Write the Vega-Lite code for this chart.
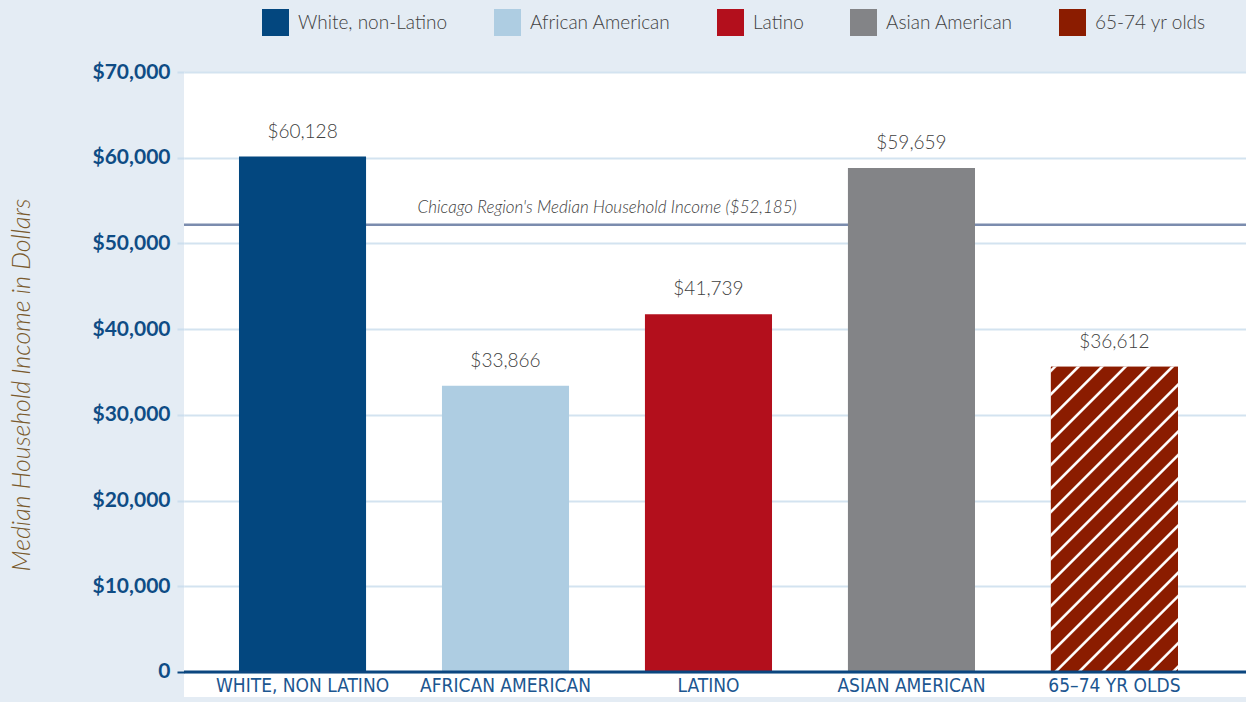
{
  "$schema": "https://vega.github.io/schema/vega-lite/v6.json",
  "width": 1062,
  "height": 625,
  "autosize": {"type": "none"},
  "padding": {"left": 184, "top": 72, "right": 0, "bottom": 5},
  "background": "#e4ecf4",
  "config": {"view": {"fill": "white", "stroke": null}, "font": "Lato"},
  "datasets": {
    "groups": [
      {"category": "WHITE, NON LATINO", "group": "White, non-Latino", "income": 60128, "label": "$60,128"},
      {"category": "AFRICAN AMERICAN", "group": "African American", "income": 33400, "label": "$33,866"},
      {"category": "LATINO", "group": "Latino", "income": 41739, "label": "$41,739"},
      {"category": "ASIAN AMERICAN", "group": "Asian American", "income": 58800, "label": "$59,659"},
      {"category": "65–74 YR OLDS", "group": "65-74 yr olds", "income": 35600, "label": "$36,612"}
    ],
    "region": [
      {"label": "Chicago Region's Median Household Income ($52,185)", "income": 52185}
    ]
  },
  "layer": [
    {
      "data": {"name": "region"},
      "mark": {"type": "rule", "color": "#7b8cae", "strokeWidth": 2.5},
      "encoding": {
        "y": {"field": "income", "type": "quantitative"}
      }
    },
    {
      "data": {"name": "groups"},
      "mark": {"type": "bar"},
      "encoding": {
        "x": {
          "field": "category", "type": "nominal", "sort": null,
          "scale": {"paddingInner": 0.374, "paddingOuter": 0.303, "align": 0.447},
          "axis": {
            "title": null, "labelAngle": 0, "domain": false, "ticks": false, "tickSize": 0,
            "labelPadding": -21, "labelFont": "'DejaVu Sans Condensed', 'DejaVu Sans', sans-serif", "labelFontSize": 19,
            "labelColor": "#1c5690", "labelLimit": 400, "grid": false
          }
        },
        "y": {
          "field": "income", "type": "quantitative",
          "scale": {"domain": [-2917, 70000], "nice": false, "zero": false},
          "axis": {
            "values": [0, 10000, 20000, 30000, 40000, 50000, 60000, 70000],
            "labelExpr": "datum.value === 0 ? '0' : format(datum.value, '$,')",
            "labelFont": "Lato", "labelFontSize": 21, "labelFontWeight": "bold",
            "labelColor": "#0f4c85", "labelPadding": 7,
            "tickSize": 7, "tickWidth": 2,
            "tickColor": {"condition": {"test": "datum.value === 0", "value": "#0b467f"}, "value": "#cddfee"},
            "domain": false, "grid": true, "gridColor": "#d3e3f0", "gridWidth": 2,
            "title": "Median Household Income in Dollars",
            "titleFont": "Lato", "titleFontWeight": 300, "titleFontStyle": "italic",
            "titleFontSize": 25, "titleColor": "#7a5a2c", "titlePadding": 58
          }
        },
        "y2": {"datum": 0},
        "color": {
          "field": "group", "type": "nominal", "sort": null,
          "scale": {
            "domain": ["White, non-Latino", "African American", "Latino", "Asian American", "65-74 yr olds"],
            "range": ["#03477f", "#aecde2", "#b30f1c", "#838487", "#8b1c00"]
          },
          "legend": {
            "orient": "none", "legendX": 78, "legendY": -63, "direction": "horizontal",
            "title": null, "symbolType": "square", "symbolSize": 729, "symbolStrokeWidth": 0,
            "symbolOpacity": 1,
            "labelFont": "Lato", "labelFontSize": 19, "labelFontWeight": 300, "labelColor": "#404040",
            "labelOffset": 9, "columnPadding": 46, "padding": 0, "labelLimit": 300,
            "encode": {
              "symbols": {
                "update": {
                  "fill": {
                    "signal": "scale('color', datum.value)"
                  }
                },
                "fill": {
                  "value": {
                    "expr": "datum.value === '65-74 yr olds' ? {gradient: 'linear', x1: 0, y1: 0, x2: 1, y2: 1, stops: [{offset: 0, color: '#8b1c00'}, {offset: 0.09, color: '#8b1c00'}, {offset: 0.11, color: '#ffffff'}, {offset: 0.15, color: '#ffffff'}, {offset: 0.17, color: '#8b1c00'}, {offset: 0.44, color: '#8b1c00'}, {offset: 0.46, color: '#ffffff'}, {offset: 0.5, color: '#ffffff'}, {offset: 0.52, color: '#8b1c00'}, {offset: 1, color: '#8b1c00'}]} : scale('color', datum.value)"
                  }
                }
              }
            }
          }
        }
      }
    },
    {
      "data": {"name": "groups"},
      "transform": [{"filter": "datum.group === '65-74 yr olds'"}],
      "mark": {
        "type": "bar",
        "fill": {
          "gradient": "linear", "x1": 0, "y1": 0, "x2": 0.5026, "y2": 1.2071,
          "stops": [
            {"offset": 0, "color": "#8b1c00"},
            {"offset": 0.003, "color": "#8b1c00"}, {"offset": 0.0065, "color": "#ffffff"}, {"offset": 0.0115, "color": "#ffffff"}, {"offset": 0.015, "color": "#8b1c00"},
            {"offset": 0.0574, "color": "#8b1c00"}, {"offset": 0.0609, "color": "#ffffff"}, {"offset": 0.0659, "color": "#ffffff"}, {"offset": 0.0694, "color": "#8b1c00"},
            {"offset": 0.1118, "color": "#8b1c00"}, {"offset": 0.1153, "color": "#ffffff"}, {"offset": 0.1203, "color": "#ffffff"}, {"offset": 0.1238, "color": "#8b1c00"},
            {"offset": 0.1662, "color": "#8b1c00"}, {"offset": 0.1697, "color": "#ffffff"}, {"offset": 0.1747, "color": "#ffffff"}, {"offset": 0.1782, "color": "#8b1c00"},
            {"offset": 0.2206, "color": "#8b1c00"}, {"offset": 0.2241, "color": "#ffffff"}, {"offset": 0.2291, "color": "#ffffff"}, {"offset": 0.2326, "color": "#8b1c00"},
            {"offset": 0.275, "color": "#8b1c00"}, {"offset": 0.2785, "color": "#ffffff"}, {"offset": 0.2835, "color": "#ffffff"}, {"offset": 0.287, "color": "#8b1c00"},
            {"offset": 0.3294, "color": "#8b1c00"}, {"offset": 0.3329, "color": "#ffffff"}, {"offset": 0.3379, "color": "#ffffff"}, {"offset": 0.3414, "color": "#8b1c00"},
            {"offset": 0.3838, "color": "#8b1c00"}, {"offset": 0.3873, "color": "#ffffff"}, {"offset": 0.3923, "color": "#ffffff"}, {"offset": 0.3958, "color": "#8b1c00"},
            {"offset": 0.4382, "color": "#8b1c00"}, {"offset": 0.4417, "color": "#ffffff"}, {"offset": 0.4467, "color": "#ffffff"}, {"offset": 0.4502, "color": "#8b1c00"},
            {"offset": 0.4926, "color": "#8b1c00"}, {"offset": 0.4961, "color": "#ffffff"}, {"offset": 0.5011, "color": "#ffffff"}, {"offset": 0.5046, "color": "#8b1c00"},
            {"offset": 0.547, "color": "#8b1c00"}, {"offset": 0.5505, "color": "#ffffff"}, {"offset": 0.5555, "color": "#ffffff"}, {"offset": 0.559, "color": "#8b1c00"},
            {"offset": 0.6014, "color": "#8b1c00"}, {"offset": 0.6049, "color": "#ffffff"}, {"offset": 0.6099, "color": "#ffffff"}, {"offset": 0.6134, "color": "#8b1c00"},
            {"offset": 0.6558, "color": "#8b1c00"}, {"offset": 0.6593, "color": "#ffffff"}, {"offset": 0.6643, "color": "#ffffff"}, {"offset": 0.6678, "color": "#8b1c00"},
            {"offset": 0.7102, "color": "#8b1c00"}, {"offset": 0.7137, "color": "#ffffff"}, {"offset": 0.7187, "color": "#ffffff"}, {"offset": 0.7222, "color": "#8b1c00"},
            {"offset": 0.7646, "color": "#8b1c00"}, {"offset": 0.7681, "color": "#ffffff"}, {"offset": 0.7731, "color": "#ffffff"}, {"offset": 0.7766, "color": "#8b1c00"},
            {"offset": 0.819, "color": "#8b1c00"}, {"offset": 0.8225, "color": "#ffffff"}, {"offset": 0.8275, "color": "#ffffff"}, {"offset": 0.831, "color": "#8b1c00"},
            {"offset": 0.8734, "color": "#8b1c00"}, {"offset": 0.8769, "color": "#ffffff"}, {"offset": 0.8819, "color": "#ffffff"}, {"offset": 0.8854, "color": "#8b1c00"},
            {"offset": 0.9278, "color": "#8b1c00"}, {"offset": 0.9313, "color": "#ffffff"}, {"offset": 0.9363, "color": "#ffffff"}, {"offset": 0.9398, "color": "#8b1c00"},
            {"offset": 0.9822, "color": "#8b1c00"}, {"offset": 0.9857, "color": "#ffffff"}, {"offset": 0.9907, "color": "#ffffff"}, {"offset": 0.9942, "color": "#8b1c00"},
            {"offset": 1, "color": "#8b1c00"}
          ]
        }
      },
      "encoding": {
        "x": {"field": "category", "type": "nominal", "sort": null},
        "y": {"field": "income", "type": "quantitative"},
        "y2": {"datum": 0}
      }
    },
    {
      "data": {"name": "region"},
      "mark": {"type": "rule", "color": "#0b467f", "strokeWidth": 3},
      "encoding": {
        "y": {"datum": 0, "type": "quantitative"}
      }
    },
    {
      "data": {"name": "groups"},
      "mark": {"type": "text", "dy": -25, "baseline": "middle", "fontSize": 19, "font": "Lato", "fontWeight": 300, "color": "#404040"},
      "encoding": {
        "x": {"field": "category", "type": "nominal", "sort": null},
        "y": {"field": "income", "type": "quantitative"},
        "text": {"field": "label"}
      }
    },
    {
      "data": {"name": "region"},
      "mark": {"type": "text", "dy": -17, "baseline": "middle", "fontSize": 17, "font": "Lato", "fontStyle": "italic", "fontWeight": 300, "color": "#404040"},
      "encoding": {
        "x": {"datum": "AFRICAN AMERICAN", "type": "nominal", "bandPosition": 1.3},
        "y": {"field": "income", "type": "quantitative"},
        "text": {"field": "label"}
      }
    }
  ]
}
